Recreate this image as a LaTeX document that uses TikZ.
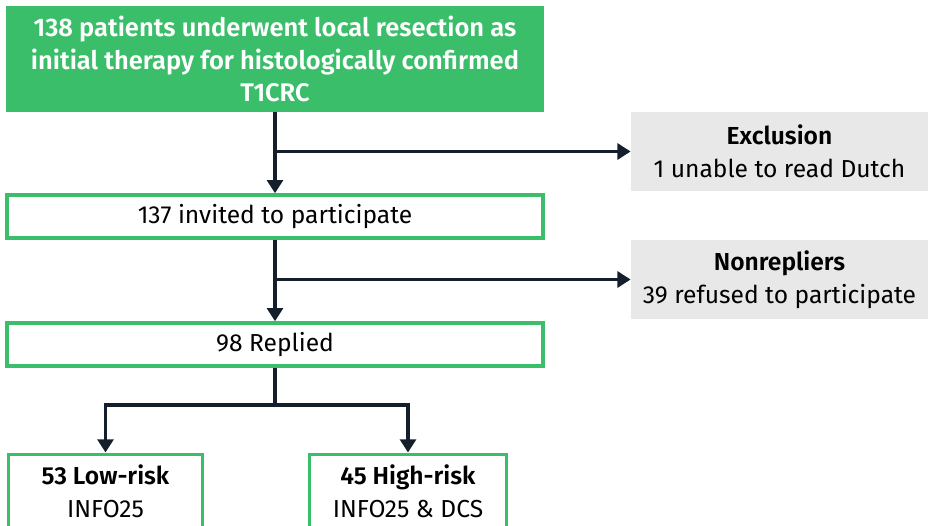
\documentclass[tikz,border=0pt]{standalone}
\usepackage{fontspec}
\setmainfont{Fira Sans}[BoldFont={Fira Sans SemiBold}]
\usetikzlibrary{arrows.meta}
\definecolor{boxgreen}{HTML}{3BBE6A}
\definecolor{boxgrey}{HTML}{E8E8E8}
\definecolor{linedark}{HTML}{151F2B}
\tikzset{
  flowfont/.style={font=\fontsize{14}{18.5}\selectfont},
  startbox/.style={font=\fontsize{14.5}{18.5}\selectfont, fill=boxgreen, text=white,
    align=center, minimum width=10.76cm, minimum height=2.12cm, inner sep=0pt},
  stagebox/.style={flowfont, draw=boxgreen, line width=2pt, fill=white,
    align=center, minimum width=10.72cm, minimum height=0.86cm, inner sep=0pt},
  sidebox/.style={flowfont, fill=boxgrey, align=center,
    minimum width=5.94cm, minimum height=1.58cm, inner sep=0pt},
  groupbox/.style={flowfont, draw=boxgreen, line width=2pt, fill=white,
    align=center, anchor=north, inner xsep=0pt, inner ysep=6pt},
  flow/.style={draw=linedark, line width=2pt},
  flowarrow/.style={flow, -{Triangle[width=9pt,length=7.5pt]}}
}
\begin{document}
\begin{tikzpicture}
\useasboundingbox (0,0) rectangle (18.56,10.5);
\clip (0,0) rectangle (18.56,10.5);
\node[startbox] (start) at (5.5,9.32) {\bfseries 138 patients underwent local resection as\\
  \bfseries initial therapy for histologically confirmed\\ \bfseries T1CRC};
\node[stagebox] (invited) at (5.5,6.17) {137 invited to participate};
\node[stagebox] (replied) at (5.5,3.61) {98 Replied};
\node[sidebox] (exclusion) at (15.59,7.47) {\textbf{Exclusion}\\1 unable to read Dutch};
\node[sidebox] (nonrepliers) at (15.59,4.91) {\textbf{Nonrepliers}\\39 refused to participate};
\node[groupbox, minimum width=3.88cm] (lowrisk) at (2.11,1.45)
  {\textbf{53 Low-risk}\\INFO25\\\rule{0pt}{1cm}};
\node[groupbox, minimum width=3.94cm] (highrisk) at (8.16,1.45)
  {\textbf{45 High-risk}\\INFO25 \& DCS\\\rule{0pt}{1cm}};
\draw[flowarrow] (start.south) -- (invited.north);
\draw[flowarrow] (start.south |- exclusion.west) -- (exclusion.west);
\draw[flowarrow] (invited.south) -- (replied.north);
\draw[flowarrow] (invited.south |- nonrepliers.west) -- (nonrepliers.west);
\coordinate (split) at (5.5,2.4);
\draw[flow] (replied.south) -- (split);
\draw[flowarrow] (split) -| (lowrisk.north);
\draw[flowarrow] (split) -| (highrisk.north);
\end{tikzpicture}
\end{document}
